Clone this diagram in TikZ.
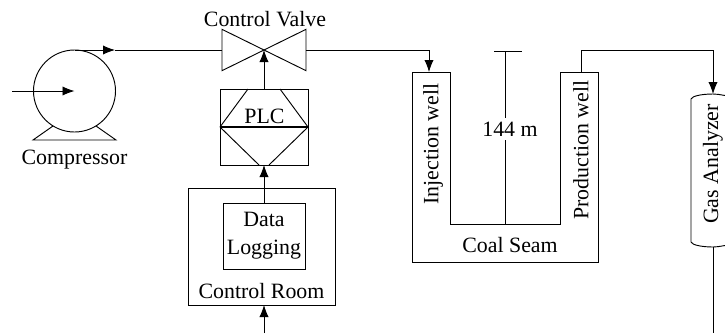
\documentclass[tikz,border=0pt]{standalone}
\usepackage{fontspec}
\setmainfont{Liberation Serif}
\usetikzlibrary{arrows.meta}
\tikzset{
  line/.style={draw=black,line width=0.7pt},
  flow/.style={line,-{Latex[length=9pt,width=7pt]}},
  lab/.style={inner sep=0pt,font=\fontsize{16.4pt}{21pt}\selectfont,align=center},
  ghost/.style={inner sep=0pt,outer sep=0pt}
}
\begin{document}
\begin{tikzpicture}[x=0.75pt,y=-0.75pt]
\useasboundingbox (0,0) rectangle (725,333);
% compressor
\node[line,circle,inner sep=0pt,outer sep=0pt,minimum size=61.5pt] (comp) at (74.5,91) {};
\coordinate (compin) at (12,91);
\coordinate (flowtip) at (115,50);
\draw[line] (53,126) -- (33,140) -- (116,140) -- (96,126);
\draw[flow] (compin) -- (comp.center);
\draw[flow] (comp.north) -- (flowtip);
\node[lab] (complab) at (74.5,160) {Compressor};
% valve
\node[ghost,minimum width=63pt,minimum height=31pt] (valve) at (264,50) {};
\draw[line] (valve.center) -- (valve.north west) -- (valve.south west) -- (valve.north east) -- (valve.south east) -- (valve.north west);
\draw[line] (flowtip) -- (valve.west);
\node[lab] (valvelab) at (265,19) {Control Valve};
% PLC
\node[line,ghost,minimum width=66pt,minimum height=57pt] (plc) at (264,127) {};
\draw[line,line width=1.2pt] (plc.west) -- (plc.east);
\draw[line] (plc.west) -- (248,89) (280,89) -- (plc.east) -- (269,165) (259,165) -- (plc.west);
\node[lab] (plclab) at (264.5,116.5) {PLC};
\draw[flow] (plc.north) -- (valve.center);
% control room
\node[line,ghost,minimum width=110.25pt,minimum height=87.75pt] (room) at (261.5,246.5) {};
\node[line,ghost,minimum width=61.5pt,minimum height=49.5pt] (log) at (264,236) {};
\node[lab] (loglab) at (264,236) {Data\\Logging};
\node[lab] (roomlab) at (261.5,291) {Control Room};
\draw[flow] (log.north) -- (plc.south);
\coordinate (roomin) at (264,333);
\draw[flow] (roomin) -- (264,305);
% wells
\coordinate (wa) at (429,50);
\coordinate (wb) at (429,72);
\draw[flow] (valve.east) -- (wa) -- (wb);
\draw[line] (412,72) -- (450,72) -- (450,224) -- (560,224) -- (560,72) -- (598,72) -- (598,262) -- (412,262) -- cycle;
\node[lab,rotate=90] (inj) at (433,144) {Injection well};
\node[lab,rotate=90] (prod) at (581,150) {Production well};
\node[lab] (seam) at (510,245) {Coal Seam};
% depth
\coordinate (dt) at (505,51);
\coordinate (db) at (505,224);
\draw[line] (494,51) -- (522,51);
\draw[line] (dt) -- (db);
\node[lab,fill=white,inner ysep=3pt] (depth) at (510,129) {144 m};
% analyzer
\coordinate (gt) at (713,94);
\coordinate (gb) at (713,247);
\coordinate (pw) at (581,72);
\coordinate (pa) at (581,50);
\coordinate (pb) at (713,50);
\draw[line] (pw) -- (pa) -- (pb);
\draw[flow] (pb) -- (gt);
\draw[line] (725,95.5) .. controls (719,94.5) and (717,94) .. (gt) .. controls (702,94) and (692,96) .. (691,99) -- (691,242) .. controls (692,245) and (702,247) .. (gb) .. controls (717,247) and (719,246.5) .. (725,245.5);
\node[lab,rotate=90] (gas) at (713,164) {Gas Analyzer};
\coordinate (gout) at (713,333);
\draw[line] (gb) -- (gout);
\end{tikzpicture}
\end{document}
